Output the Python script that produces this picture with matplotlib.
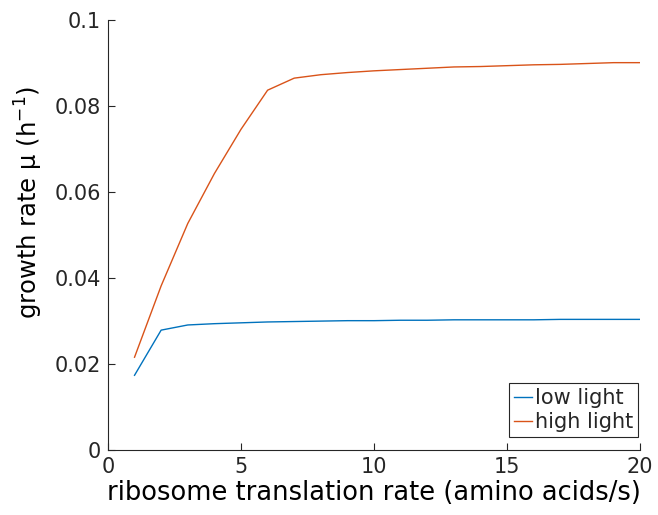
import matplotlib
matplotlib.use('Agg')
import matplotlib.pyplot as plt

rate = [1, 2, 3, 4, 5, 6, 7, 8, 9, 10, 11, 12, 13, 14, 15, 16, 17, 18, 19, 20]
low_light = [0.0174, 0.0279, 0.0291, 0.0294, 0.0296, 0.0298, 0.0299, 0.0300, 0.0301,
             0.0301, 0.0302, 0.0302, 0.0303, 0.0303, 0.0303, 0.0303, 0.0304, 0.0304,
             0.0304, 0.0304]
high_light = [0.0216, 0.0382, 0.0527, 0.0643, 0.0746, 0.0837, 0.0865, 0.0873, 0.0878,
              0.0882, 0.0885, 0.0888, 0.0891, 0.0892, 0.0894, 0.0896, 0.0897, 0.0899,
              0.0901, 0.0901]

plt.rcParams.update({
    'font.family': 'DejaVu Sans',
    'text.color': '#262626',
    'axes.edgecolor': '#262626',
    'xtick.color': '#262626',
    'ytick.color': '#262626',
    'mathtext.fontset': 'dejavusans',
})

fig = plt.figure(figsize=(6.58, 5.15), dpi=100)
ax = fig.add_axes([0.164, 0.126, 0.809, 0.835])

ax.plot(rate, low_light, color='#0072BD', linewidth=1.0, label='low light')
ax.plot(rate, high_light, color='#D95319', linewidth=1.0, label='high light')

ax.set_xlim(0, 20)
ax.set_ylim(0, 0.1)
ax.set_xticks([0, 5, 10, 15, 20])
ax.set_yticks([0, 0.02, 0.04, 0.06, 0.08, 0.1])
ax.set_yticklabels(['0', '0.02', '0.04', '0.06', '0.08', '0.1'])
ax.tick_params(direction='in', length=5, width=0.8, labelsize=15, pad=5)
ax.spines['top'].set_visible(False)
ax.spines['right'].set_visible(False)

ax.set_xlabel('ribosome translation rate (amino acids/s)', fontsize=18.5, labelpad=2)
ax.set_ylabel('growth rate \u03bc (h$^{\\mathregular{-1}}$)', fontsize=17.5)
ax.yaxis.set_label_coords(-0.118, 0.575)

leg = ax.legend(loc='lower right', bbox_to_anchor=(0.996, 0.03), borderaxespad=0,
                fontsize=15, handlelength=0.85, handletextpad=0.15,
                borderpad=0.25, labelspacing=0.2, fancybox=False, framealpha=1)
leg.get_frame().set_edgecolor('#262626')
leg.get_frame().set_linewidth(0.8)

fig.savefig('out.png', dpi=100)
